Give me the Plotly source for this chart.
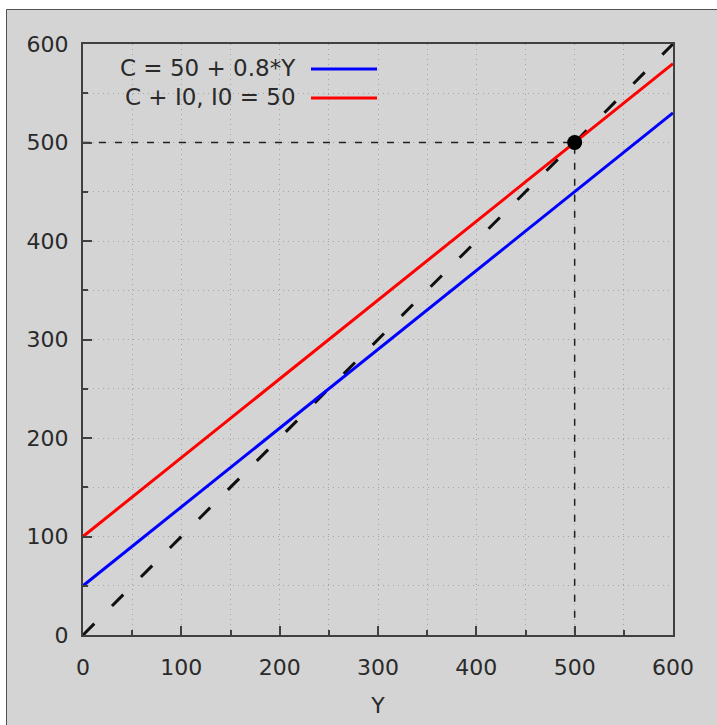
import plotly.graph_objects as go

# Data
y_income = [0, 600]
consumption = [50, 530]          # C = 50 + 0.8*Y
consumption_inv = [100, 580]     # C + I0, I0 = 50
diag_x = [0, 600]
diag_y = [0, 600]
eq_x = [500]
eq_y = [500]
guide_x = [0, 500, 500]
guide_y = [500, 500, 0]
legend_labels = ["C = 50 + 0.8*Y", "C + I0, I0 = 50"]
tick_vals = [0, 100, 200, 300, 400, 500, 600]

FONT = "DejaVu Sans"
TXT = "#2a2a2a"
BG = "#d4d4d4"
GRID = "#a4a4a4"

fig = go.Figure()
fig.add_trace(go.Scatter(x=guide_x, y=guide_y, mode="lines",
                         line=dict(color="#202020", width=1.5, dash="7px,9px"),
                         showlegend=False, hoverinfo="skip"))
fig.add_trace(go.Scatter(x=diag_x, y=diag_y, mode="lines",
                         line=dict(color="#101010", width=3, dash="16px,25px"),
                         showlegend=False))
fig.add_trace(go.Scatter(x=y_income, y=consumption, mode="lines",
                         line=dict(color="#0000ff", width=3),
                         name=legend_labels[0], showlegend=False))
fig.add_trace(go.Scatter(x=y_income, y=consumption_inv, mode="lines",
                         line=dict(color="#ff0000", width=3),
                         name=legend_labels[1], showlegend=False))
fig.add_trace(go.Scatter(x=eq_x, y=eq_y, mode="markers",
                         marker=dict(color="#000000", size=15),
                         showlegend=False))

L, R, T, B = 83, 44, 44, 90
W, H = 717, 725
pw, ph = W - L - R, H - T - B

def px_x(px):
    return (px - L) / pw

def px_y(py):
    return (H - B - py) / ph

shapes = [
    dict(type="rect", xref="paper", yref="paper",
         x0=px_x(6.5), x1=px_x(W + 5), y0=px_y(H + 5), y1=px_y(9.5),
         fillcolor=BG, line=dict(color="#505050", width=1), layer="below"),
]
annotations = []
rows = [68, 97]
colors = ["#0000ff", "#ff0000"]
for lab, r, c in zip(legend_labels, rows, colors):
    annotations.append(dict(xref="paper", yref="paper", x=px_x(298), y=px_y(r),
                            xanchor="right", yanchor="middle", text=lab,
                            showarrow=False, font=dict(family=FONT, size=23, color=TXT)))
    shapes.append(dict(type="line", xref="paper", yref="paper",
                       x0=px_x(311), x1=px_x(377), y0=px_y(r + 1), y1=px_y(r + 1),
                       line=dict(color=c, width=3)))

axis_common = dict(
    range=[0, 600], tickvals=tick_vals, ticks="inside", ticklen=9, tickwidth=1.5,
    tickcolor="#404040", showline=True, linecolor="#404040", linewidth=2, mirror=True,
    showgrid=True, gridcolor=GRID, gridwidth=1, griddash="1px,4px", zeroline=False,
    tickfont=dict(family=FONT, size=22, color=TXT),
    minor=dict(dtick=50, tick0=0, ticks="inside", ticklen=5, tickcolor="#404040",
               showgrid=True, gridcolor=GRID, griddash="1px,4px", gridwidth=1),
)

fig.update_layout(
    width=W, height=H,
    margin=dict(l=L, r=R, t=T, b=B),
    paper_bgcolor="white", plot_bgcolor=BG,
    xaxis=dict(**axis_common, ticklabelstandoff=12,
               title=dict(text="Y", font=dict(family=FONT, size=22, color=TXT), standoff=18)),
    yaxis=dict(**axis_common, ticklabelstandoff=8),
    shapes=shapes, annotations=annotations,
    showlegend=False,
)

fig.write_html("out.html", config={"displayModeBar": False},
               post_script="document.body.style.margin='0';")
